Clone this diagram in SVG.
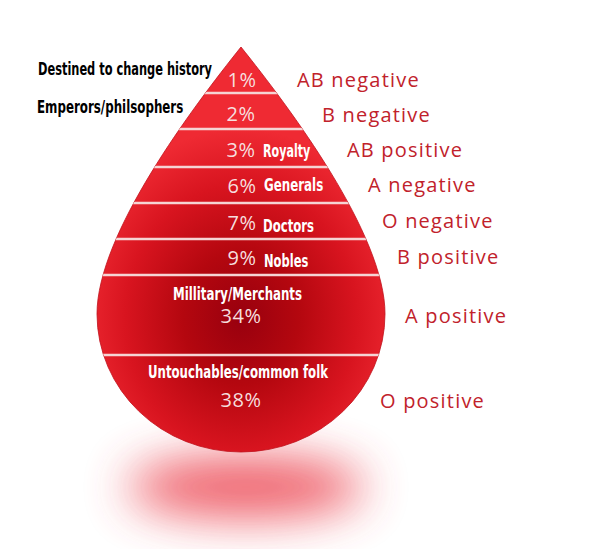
<svg xmlns="http://www.w3.org/2000/svg" width="602" height="549" viewBox="0 0 602 549">
  <defs>
    <radialGradient id="dropGrad" gradientUnits="userSpaceOnUse" cx="241" cy="318" r="165" gradientTransform="translate(241 318) scale(1 1.15) translate(-241 -318)">
      <stop offset="0" stop-color="#98000e"/>
      <stop offset="0.35" stop-color="#b4070f"/>
      <stop offset="0.7" stop-color="#d8141f"/>
      <stop offset="1" stop-color="#ef2a33"/>
    </radialGradient>
    <filter id="blur" x="-60%" y="-150%" width="220%" height="400%">
      <feGaussianBlur stdDeviation="24"/>
    </filter>
    <clipPath id="dropClip">
      <path d="M241 47 C289 107 385 234 385 314 A144 138 0 0 1 241 452 A144 138 0 0 1 97 314 C97 234 193 107 241 47 Z"/>
    </clipPath>
    <style>
      .sep { stroke: #f5d4d4; stroke-width: 2.5; }
      .pct { font-family: "Open Sans", "Liberation Sans", sans-serif; font-size: 20px; fill: #f6dede; text-anchor: middle; letter-spacing: 0.5px; }
      .type { font-family: "Open Sans", "Liberation Sans", sans-serif; font-size: 20px; fill: #c1222b; letter-spacing: 1.2px; }
      .lbl { font-family: "DejaVu Sans Condensed", "Liberation Sans Narrow", "Liberation Sans", sans-serif; font-weight: bold; font-size: 17px; }
      .wht { fill: #ffffff; }
      .blk { fill: #000000; }
    </style>
  </defs>
  <rect width="602" height="549" fill="#ffffff"/>

  <g id="shadow">
    <ellipse cx="246" cy="487" rx="118" ry="30" fill="#ec4a55" opacity="0.9" filter="url(#blur)"/>
  </g>

  <g id="drop">
    <path d="M241 47 C289 107 385 234 385 314 A144 138 0 0 1 241 452 A144 138 0 0 1 97 314 C97 234 193 107 241 47 Z" fill="url(#dropGrad)" stroke="#c0101a" stroke-width="0.8"/>
  </g>

  <g id="connectors" clip-path="url(#dropClip)">
    <line class="sep" x1="90" y1="93" x2="395" y2="93"/>
    <line class="sep" x1="90" y1="129" x2="395" y2="129"/>
    <line class="sep" x1="90" y1="167" x2="395" y2="167"/>
    <line class="sep" x1="90" y1="203" x2="395" y2="203"/>
    <line class="sep" x1="90" y1="239" x2="395" y2="239"/>
    <line class="sep" x1="90" y1="275" x2="395" y2="275"/>
    <line class="sep" x1="90" y1="355" x2="395" y2="355"/>
  </g>

  <g id="tier-1">
    <text class="pct" x="242" y="87">1%</text>
    <text class="lbl blk" transform="translate(38 75) scale(0.75 1)" textLength="232" lengthAdjust="spacingAndGlyphs">Destined to change history</text>
    <text class="type" x="297" y="87">AB negative</text>
  </g>
  <g id="tier-2">
    <text class="pct" x="241" y="121">2%</text>
    <text class="lbl blk" transform="translate(37 113) scale(0.75 1)" textLength="195" lengthAdjust="spacingAndGlyphs">Emperors/philsophers</text>
    <text class="type" x="322" y="122">B negative</text>
  </g>
  <g id="tier-3">
    <text class="pct" x="241" y="157">3%</text>
    <text class="lbl wht" transform="translate(263 157) scale(0.75 1)" textLength="63" lengthAdjust="spacingAndGlyphs">Royalty</text>
    <text class="type" x="347" y="157">AB positive</text>
  </g>
  <g id="tier-4">
    <text class="pct" x="242" y="193">6%</text>
    <text class="lbl wht" transform="translate(264 191) scale(0.75 1)" textLength="79" lengthAdjust="spacingAndGlyphs">Generals</text>
    <text class="type" x="368" y="192">A negative</text>
  </g>
  <g id="tier-5">
    <text class="pct" x="242" y="230">7%</text>
    <text class="lbl wht" transform="translate(263 232) scale(0.75 1)" textLength="68" lengthAdjust="spacingAndGlyphs">Doctors</text>
    <text class="type" x="382" y="228">O negative</text>
  </g>
  <g id="tier-6">
    <text class="pct" x="242" y="265">9%</text>
    <text class="lbl wht" transform="translate(264 267) scale(0.75 1)" textLength="59" lengthAdjust="spacingAndGlyphs">Nobles</text>
    <text class="type" x="397" y="264">B positive</text>
  </g>
  <g id="tier-7">
    <text class="lbl wht" transform="translate(173 300) scale(0.75 1)" textLength="172" lengthAdjust="spacingAndGlyphs">Millitary/Merchants</text>
    <text class="pct" x="241" y="323">34%</text>
    <text class="type" x="405" y="323">A positive</text>
  </g>
  <g id="tier-8">
    <text class="lbl wht" transform="translate(148 378) scale(0.75 1)" textLength="240" lengthAdjust="spacingAndGlyphs">Untouchables/common folk</text>
    <text class="pct" x="241" y="407">38%</text>
    <text class="type" x="380" y="408">O positive</text>
  </g>
</svg>
